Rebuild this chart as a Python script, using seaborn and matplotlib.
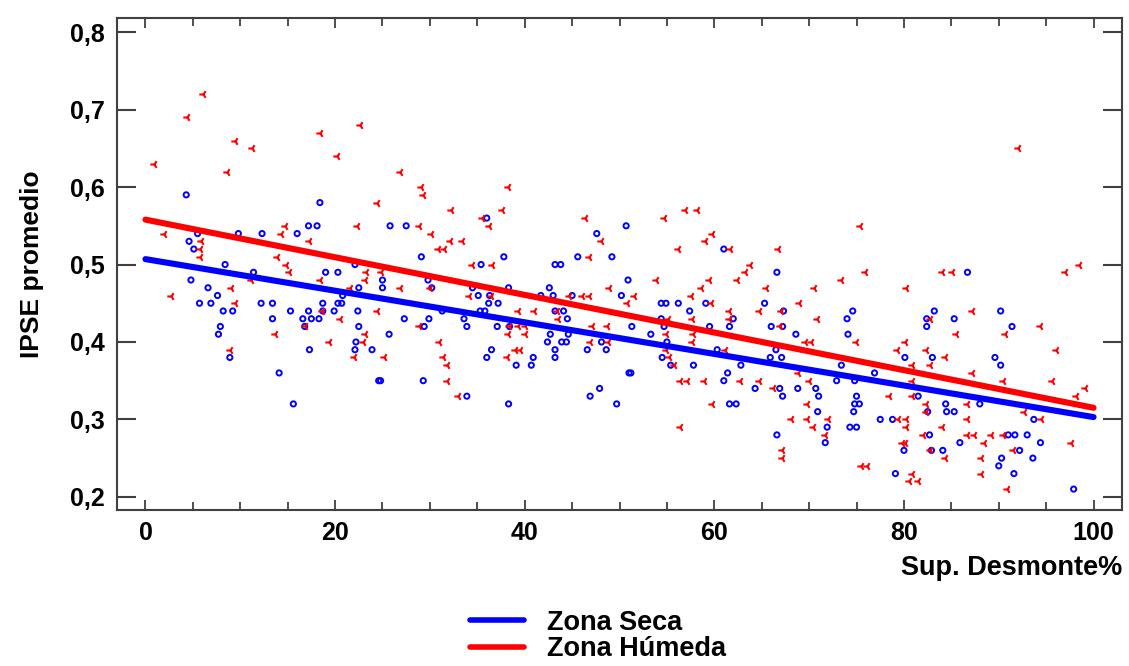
import numpy as np
import pandas as pd
import matplotlib
matplotlib.use("Agg")
import matplotlib.pyplot as plt
from matplotlib.lines import Line2D
from matplotlib.ticker import FuncFormatter, MultipleLocator
import seaborn as sns

# ---- datos ----
seca_x = [4.3, 18.4, 17.2, 18.1, 5.5, 9.8, 12.3, 16.0,
          4.6, 5.1, 8.4, 11.4, 19.0, 20.3, 22.1, 4.8, 6.6, 7.6, 20.8, 22.5, 5.7, 6.9, 12.2, 13.4,
          18.7, 20.3, 20.7, 8.2, 9.2, 15.3, 17.2, 18.7, 19.9, 22.4, 13.4, 16.6, 17.5, 18.3, 7.9,
          16.8, 22.5, 7.7, 22.2, 17.3, 22.1, 23.9, 8.9, 14.1, 15.6, 24.6,
          25.8, 27.5, 36.0, 50.7, 47.6, 29.1, 37.8, 45.6, 49.2, 35.4, 43.2, 43.8, 25.0, 29.8, 50.9,
          25.0, 30.2, 34.5, 38.3, 42.6, 35.1, 36.3, 41.7, 43.0, 45.0, 50.2,
          36.2, 37.2, 31.3, 35.3, 35.8, 43.2, 44.1, 27.3, 29.9, 33.6, 44.5, 29.4, 33.9, 37.1, 38.4,
          25.7, 42.7, 44.6, 42.4, 43.9, 44.4, 48.1, 36.5, 43.2, 46.6, 48.6, 36.0, 40.9, 43.2, 39.1,
          40.7, 24.8, 29.3, 51.0, 47.9, 33.9, 46.9, 38.3, 49.7,
          61.0, 66.6,
          54.4, 54.9, 56.2, 59.1, 65.3, 57.4, 67.3, 74.6, 54.4, 62.0, 74.0, 51.3, 54.7, 59.5, 61.6,
          66.0, 67.2, 53.3, 68.6, 74.1, 55.0, 60.3, 66.5, 54.5, 65.9, 67.1, 55.4, 57.8, 62.8, 73.4,
          51.2, 61.4, 61.0, 72.9, 74.8, 64.3, 66.9, 68.8, 70.7, 67.2, 71.0, 75.0, 61.6, 62.3, 74.8,
          75.3, 70.9, 74.7, 71.9, 74.3, 75.0, 66.6, 71.7,
          86.7, 83.2, 90.2, 82.4, 85.3, 82.4, 91.4,
          80.1, 83.0, 89.6, 90.2, 76.9, 81.5, 84.4, 88.0, 82.5, 84.5, 85.3, 77.5, 78.8, 93.7, 82.7,
          91.0, 91.7, 93.0, 85.9, 94.4, 80.0, 82.9, 84.1, 92.2, 90.3, 93.6, 90.0, 79.1, 91.6, 97.9]
seca_y = [0.59, 0.58, 0.55, 0.55, 0.54, 0.54, 0.54, 0.54,
          0.53, 0.52, 0.50, 0.49, 0.49, 0.49, 0.50, 0.48, 0.47, 0.46, 0.46, 0.47, 0.45, 0.45, 0.45, 0.45,
          0.45, 0.45, 0.45, 0.44, 0.44, 0.44, 0.44, 0.44, 0.44, 0.44, 0.43, 0.43, 0.43, 0.43, 0.42,
          0.42, 0.42, 0.41, 0.40, 0.39, 0.39, 0.39, 0.38, 0.36, 0.32, 0.35,
          0.55, 0.55, 0.56, 0.55, 0.54, 0.51, 0.51, 0.51, 0.51, 0.50, 0.50, 0.50, 0.48, 0.48, 0.48,
          0.47, 0.47, 0.47, 0.47, 0.47, 0.46, 0.46, 0.46, 0.46, 0.46, 0.46,
          0.45, 0.45, 0.44, 0.44, 0.44, 0.44, 0.44, 0.43, 0.43, 0.43, 0.43, 0.42, 0.42, 0.42, 0.42,
          0.41, 0.41, 0.41, 0.40, 0.40, 0.40, 0.40, 0.39, 0.39, 0.39, 0.39, 0.38, 0.38, 0.38, 0.37,
          0.37, 0.35, 0.35, 0.36, 0.34, 0.33, 0.33, 0.32, 0.32,
          0.52, 0.49,
          0.45, 0.45, 0.45, 0.45, 0.45, 0.44, 0.44, 0.44, 0.43, 0.43, 0.43, 0.42, 0.42, 0.42, 0.42,
          0.42, 0.42, 0.41, 0.41, 0.41, 0.40, 0.39, 0.39, 0.38, 0.38, 0.38, 0.37, 0.37, 0.37, 0.37,
          0.36, 0.36, 0.35, 0.35, 0.35, 0.34, 0.34, 0.34, 0.34, 0.33, 0.33, 0.33, 0.32, 0.32, 0.32,
          0.32, 0.31, 0.31, 0.29, 0.29, 0.29, 0.28, 0.27,
          0.49, 0.44, 0.44, 0.43, 0.43, 0.42, 0.42,
          0.38, 0.38, 0.38, 0.37, 0.36, 0.33, 0.32, 0.32, 0.31, 0.31, 0.31, 0.30, 0.30, 0.30, 0.28,
          0.28, 0.28, 0.28, 0.27, 0.27, 0.26, 0.26, 0.26, 0.26, 0.25, 0.25, 0.24, 0.23, 0.23, 0.21]

humeda_x = [6.1, 4.4, 9.4, 11.2, 0.95, 8.6, 18.4, 22.6, 20.2, 24.4, 14.7, 22.3, 2.0, 14.3, 17.2,
            5.9, 5.8, 5.8, 13.9, 14.8, 15.1, 11.1, 18.4, 23.3, 23.2, 21.6, 2.7, 9.0, 9.4, 18.6,
            24.4, 20.5, 16.8, 13.7, 23.2, 19.4, 22.9, 8.9, 22.0,
            26.9, 29.1, 29.3, 38.2, 32.2, 37.6, 35.5, 36.2, 28.9, 30.1, 32.1, 33.4, 30.9, 31.5, 46.4,
            48.0, 46.8, 34.4, 36.5, 24.8, 26.9, 30.0, 34.1, 36.4, 44.7, 46.0, 46.8, 48.9, 50.8,
            39.3, 41.0, 43.4, 43.5, 28.9, 38.3, 39.3, 40.0, 47.1, 48.7, 38.2, 40.0, 31.0, 46.9, 48.8,
            39.0, 39.5, 25.2, 31.4, 38.1, 31.8, 31.8, 33.0,
            56.9, 58.2, 54.7, 75.4, 59.8, 59.0, 56.2, 61.7, 66.7, 63.8, 63.2, 75.9, 53.8, 59.4, 62.4,
            73.4, 58.6, 65.5, 70.5, 51.5, 57.5,
            59.7, 68.9, 61.6, 64.7, 67.0, 55.1, 57.6, 61.5, 70.8, 66.9, 54.9, 57.8, 57.6, 69.6, 70.2,
            74.9, 54.9, 61.1, 55.2, 55.7, 68.8, 56.4, 57.1, 58.9, 62.7, 64.7, 70.0, 66.2, 59.8, 69.8,
            68.1, 69.8, 72.0, 70.4, 56.4, 71.7, 67.1, 67.1, 75.5, 76.1,
            84.0, 85.1, 97.0, 98.5, 80.2, 87.2, 94.4, 82.8, 85.5, 90.7, 92.0,
            80.1, 79.3, 82.3, 84.3, 96.0, 80.9, 82.8, 87.2, 90.4, 95.6, 99.1, 80.9, 78.4, 80.9, 86.7,
            82.3, 98.1, 82.3, 92.7, 79.4, 80.2, 94.5, 86.7, 84.0, 80.2, 82.0, 86.7, 87.4, 89.2, 90.4,
            79.8, 80.1, 88.4, 97.6, 82.8, 91.5, 84.3, 88.1, 80.9, 88.1, 80.5, 81.5, 90.9]
humeda_y = [0.72, 0.69, 0.66, 0.65, 0.63, 0.62, 0.67, 0.68, 0.64, 0.58, 0.55, 0.55, 0.54, 0.54, 0.53,
            0.53, 0.52, 0.51, 0.51, 0.50, 0.49, 0.48, 0.48, 0.49, 0.48, 0.47, 0.46, 0.47, 0.45, 0.44,
            0.44, 0.43, 0.42, 0.41, 0.41, 0.40, 0.40, 0.39, 0.38,
            0.62, 0.60, 0.59, 0.60, 0.57, 0.57, 0.56, 0.55, 0.55, 0.54, 0.53, 0.53, 0.52, 0.52, 0.56,
            0.53, 0.51, 0.50, 0.50, 0.49, 0.47, 0.47, 0.46, 0.46, 0.46, 0.46, 0.46, 0.47, 0.45,
            0.44, 0.44, 0.44, 0.43, 0.42, 0.42, 0.42, 0.42, 0.42, 0.42, 0.41, 0.41, 0.40, 0.40, 0.40,
            0.39, 0.39, 0.38, 0.38, 0.38, 0.37, 0.35, 0.33,
            0.57, 0.57, 0.56, 0.55, 0.54, 0.53, 0.52, 0.52, 0.52, 0.50, 0.49, 0.49, 0.48, 0.48, 0.48,
            0.48, 0.47, 0.47, 0.47, 0.46, 0.46,
            0.45, 0.45, 0.44, 0.44, 0.44, 0.43, 0.43, 0.43, 0.43, 0.42, 0.41, 0.41, 0.40, 0.40, 0.40,
            0.40, 0.39, 0.39, 0.38, 0.37, 0.36, 0.35, 0.35, 0.35, 0.35, 0.35, 0.35, 0.34, 0.32, 0.32,
            0.30, 0.30, 0.30, 0.29, 0.29, 0.28, 0.26, 0.25, 0.24, 0.24,
            0.49, 0.49, 0.49, 0.50, 0.47, 0.44, 0.42, 0.43, 0.41, 0.41, 0.65,
            0.40, 0.39, 0.39, 0.38, 0.39, 0.37, 0.37, 0.36, 0.35, 0.35, 0.34, 0.35, 0.33, 0.33, 0.32,
            0.32, 0.33, 0.31, 0.31, 0.30, 0.30, 0.30, 0.30, 0.29, 0.29, 0.28, 0.28, 0.28, 0.28, 0.28,
            0.27, 0.27, 0.27, 0.27, 0.26, 0.26, 0.25, 0.25, 0.23, 0.23, 0.22, 0.22, 0.21]

# rectas de ajuste (ordenada, pendiente)
zonas = ["Zona Seca", "Zona Húmeda"]
ordenadas = [0.507, 0.558]
pendientes = [-0.00204, -0.00243]
colores = ["#0000ff", "#ff0000"]

sns.set_style("white")
plt.rcParams['font.family'] = ['Liberation Sans', 'DejaVu Sans']
plt.rcParams['font.weight'] = 'bold'
plt.rcParams['text.color'] = 'black'
plt.rcParams['axes.labelcolor'] = 'black'
plt.rcParams['xtick.labelcolor'] = 'black'
plt.rcParams['ytick.labelcolor'] = 'black'

fig = plt.figure(figsize=(11.29, 6.66), dpi=100)
ax = fig.add_axes([117 / 1129, 1 - 510 / 666, 1005 / 1129, 491.7 / 666])

df_seca = pd.DataFrame({"x": seca_x, "y": seca_y})
df_hum = pd.DataFrame({"x": humeda_x, "y": humeda_y})

sns.scatterplot(data=df_seca, x="x", y="y", ax=ax, marker="o", s=14,
                facecolors="none", edgecolor=colores[0], linewidth=1.4, legend=False)
sns.scatterplot(data=df_hum, x="x", y="y", ax=ax, marker="3", s=36,
                color=colores[1], linewidth=1.5, legend=False)

xs = np.array([0, 100])
for b0, b1, c in zip(ordenadas, pendientes, colores):
    sns.lineplot(x=xs, y=b0 + b1 * xs, ax=ax, color=c, linewidth=4.4, legend=False)

ax.set_xlim(-3, 103)
ax.set_ylim(0.183, 0.818)
ax.xaxis.set_major_locator(MultipleLocator(20))
ax.xaxis.set_minor_locator(MultipleLocator(5))
ax.yaxis.set_major_locator(MultipleLocator(0.1))
ax.yaxis.set_major_formatter(FuncFormatter(lambda v, p: f"{v:.1f}".replace(".", ",")))
ax.xaxis.set_major_formatter(FuncFormatter(lambda v, p: f"{v:.0f}"))

for s in ax.spines.values():
    s.set_color("#404040")
    s.set_linewidth(1.5)
ax.tick_params(axis="x", which="both", direction="in", top=True, bottom=True,
               color="#404040", width=1.3, labelsize=18, pad=8)
ax.tick_params(axis="x", which="major", length=7)
ax.tick_params(axis="x", which="minor", length=6)
ax.tick_params(axis="y", which="major", direction="in", left=True, right=True,
               color="#404040", width=1.5, length=13.5, labelsize=18, pad=9)
for lab in ax.get_xticklabels() + ax.get_yticklabels():
    lab.set_fontweight("bold")

ax.set_xlabel("Sup. Desmonte%", fontsize=19.5, fontweight="bold", ha="right")
ax.xaxis.set_label_coords(1.0, -0.092)
ax.set_ylabel("IPSE promedio", fontsize=19, fontweight="bold")
ax.yaxis.set_label_coords(-0.073, 0.5)

handles = [Line2D([], [], color=c, linewidth=4.0) for c in colores]
fig.legend(handles, zonas, loc="center", bbox_to_anchor=(598 / 1129, 1 - 636 / 666),
           frameon=False, prop={"size": 19.5, "weight": "bold"}, handlelength=2.0,
           handletextpad=0.85, labelspacing=0.02)

fig.savefig("out.png", dpi=100)
